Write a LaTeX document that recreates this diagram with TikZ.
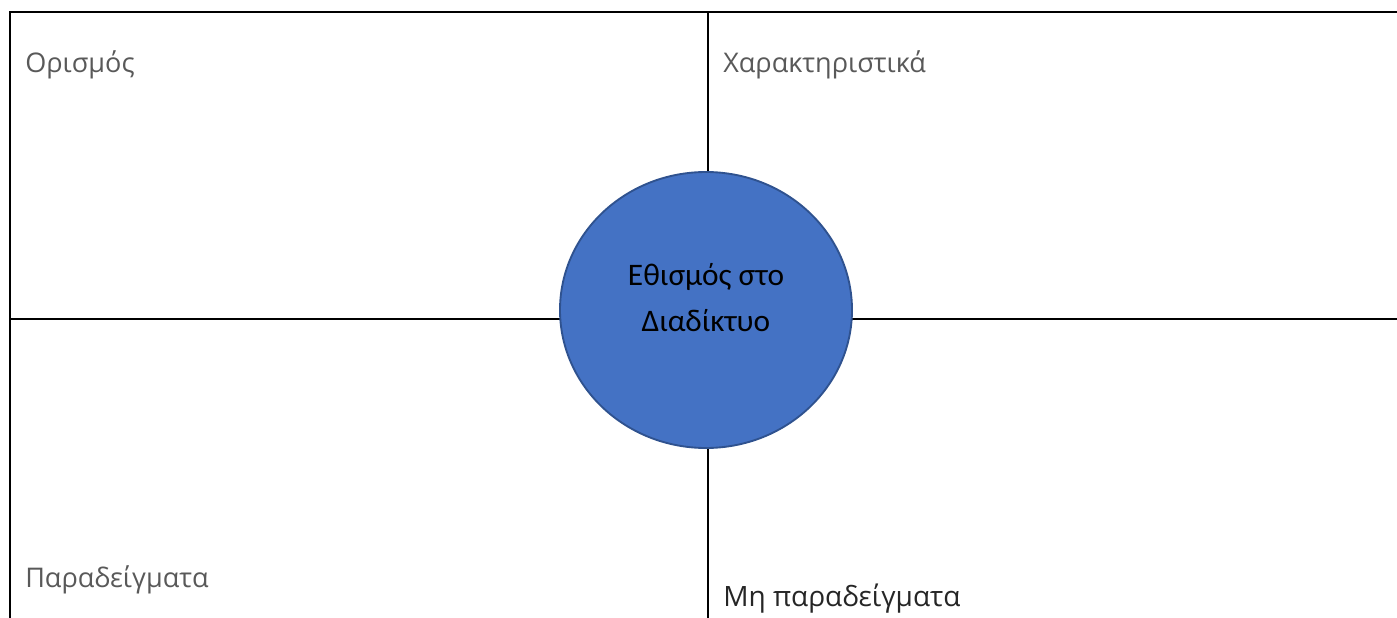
\documentclass[tikz,border=0pt]{standalone}
\usepackage{fontspec}
\setmainfont{Open Sans}
\newfontfamily\centrefont{Carlito}
\usetikzlibrary{shapes.geometric}
\definecolor{hubfill}{HTML}{4472C4}
\definecolor{hubline}{HTML}{2F528F}
\definecolor{labelgrey}{HTML}{595959}
\tikzset{
	frameline/.style={line width=1.5pt, black},
	quadlabel/.style={anchor=base west, inner sep=0pt, text=labelgrey, font=\fontsize{20.3}{24}\selectfont},
	hub/.style={ellipse, draw=hubline, line width=1.4pt, fill=hubfill, minimum width=219pt, minimum height=207pt},
	hubtext/.style={align=center, inner sep=0pt, font=\centrefont\fontsize{23.5}{34.5}\selectfont}
}
\begin{document}
\begin{tikzpicture}[x=0.75pt,y=-0.75pt]
	\useasboundingbox (0,0) rectangle (1397,618);
	\coordinate (tl) at (10,12);
	\coordinate (tr) at (1397,12);
	\coordinate (bl) at (10,618);
	\coordinate (ml) at (10,319);
	\coordinate (mr) at (1397,319);
	\coordinate (mt) at (708,12);
	\coordinate (mb) at (708,618);
	
	\draw[frameline] (bl) -- (tl) -- (tr);
	\draw[frameline] (ml) -- (mr);
	\draw[frameline] (mt) -- (mb);
	
	\node[hub] (addiction) at (706,310) {};
	\node[hubtext] (addictiontext) at (706,298) {Εθισμός στο\\Διαδίκτυο};
	
	\node[quadlabel] (definition) at (25,72) {Ορισμός};
	\node[quadlabel] (traits) at (723,72) {Χαρακτηριστικά};
	\node[quadlabel] (examples) at (25,587) {Παραδείγματα};
	\node[quadlabel, text=black!85, font=\fontsize{21}{25}\selectfont] (nonexamples) at (723,606) {Μη παραδείγματα};
\end{tikzpicture}
\end{document}
